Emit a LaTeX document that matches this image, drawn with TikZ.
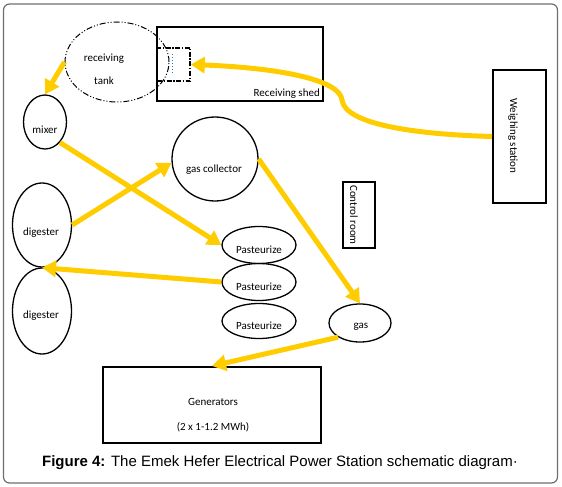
\documentclass[tikz,border=0pt]{standalone}
\usepackage{fontspec}
\setmainfont{Carlito}
\newfontfamily\capfont{Liberation Sans}
\usetikzlibrary{shapes.geometric,arrows.meta}
\definecolor{arrowyellow}{RGB}{255,204,0}
\definecolor{framegray}{RGB}{110,110,110}
\begin{document}
\begin{tikzpicture}[x=1pt,y=-1pt,
  every node/.append style={font=\fontsize{11}{13}\selectfont},
  oval/.style={draw, ellipse, line width=1.3pt, inner sep=0pt},
  box/.style={draw, rectangle, line width=2pt, inner sep=0pt},
  txt/.style={inner sep=0pt},
  flow/.style={draw=arrowyellow, line width=5pt, -{Triangle[length=14pt,width=16pt]}}
]
\useasboundingbox (0,0) rectangle (562,487);
\draw[framegray, line width=1.2pt, rounded corners=6pt] (3.5,4) rectangle (557.5,483);

% receiving tank and shed
\node[oval, line width=1pt, dash pattern=on 6pt off 2pt on 1pt off 2pt on 1pt off 2pt, minimum width=104, minimum height=80] (tank) at (117,62) {};
\node[txt] (tanka) at (104,59) {receiving};
\node[txt] (tankb) at (104,81) {tank};
\node[box, minimum width=166, minimum height=74] (shed) at (240,64) {};
\node[txt, anchor=base east] (shedl) at (320,96) {Receiving shed};
\node[draw, line width=1.5pt, dash pattern=on 5pt off 1.5pt on 1.5pt off 1.5pt, minimum width=33, minimum height=33, inner sep=0pt] (dbox) at (173.5,64.5) {};
\draw[cyan!60!blue, line width=1pt, dotted] (172,54) -- (172,75);

% weighing station and control room
\node[box, minimum width=53, minimum height=133] (weigh) at (519.5,136.5) {};
\node[txt, rotate=-90] (weighl) at (513,136) {Weighing station};
\node[box, minimum width=32, minimum height=66] (ctrl) at (359,215) {};
\node[txt, rotate=-90] (ctrll) at (354,215) {Control room};

% process vessels
\node[oval, minimum width=43, minimum height=54] (mixer) at (45,122) {};
\node[txt] (mixerl) at (45,130) {mixer};
\node[oval, minimum width=86, minimum height=84] (gc) at (215,159) {};
\node[txt] (gcl) at (214,170) {gas collector};
\node[oval, minimum width=59, minimum height=84] (dig1) at (42,225) {};
\node[txt] (dig1l) at (41,233) {digester};
\node[oval, minimum width=59, minimum height=86] (dig2) at (42,311) {};
\node[txt] (dig2l) at (41,316) {digester};
\node[oval, minimum width=74, minimum height=37] (past1) at (259,245) {};
\node[txt] (past1l) at (259,250) {Pasteurize};
\node[oval, minimum width=74, minimum height=37] (past2) at (259,282) {};
\node[txt] (past2l) at (259,287) {Pasteurize};
\node[oval, minimum width=74, minimum height=35] (past3) at (259,321) {};
\node[txt] (past3l) at (259,326) {Pasteurize};
\node[oval, minimum width=62, minimum height=38] (gas) at (360,323) {};
\node[txt] (gasl) at (361,327) {gas};

% generators
\node[box, minimum width=218, minimum height=76] (gen) at (212,405) {};
\node[txt] (genl) at (213,402) {Generators};
\node[txt] (genm) at (213,427) {(2 x 1-1.2 MWh)};

% flows
\coordinate (bend) at (342,100);
\draw[flow] (weigh.west) .. controls +(-73,-2) and +(3,25) .. (bend)
  .. controls +(-2,-20) and +(90,3.5) .. (dbox.east);
\draw[flow] (tank.west) -- (mixer.north);
\draw[flow] (mixer.-54) -- (past1.west);
\draw[flow] (dig1.east) -- (gc.185);
\draw[flow] (past2.west) -- (dig1.south);
\draw[flow] (gc.east) -- (gas.north);
\draw[flow] (gas.213) -- (gen.north);

% caption
\node[txt, font=\capfont\fontsize{15}{18}\selectfont] (cap) at (280,463) {\textbf{Figure 4:} The Emek Hefer Electrical Power Station schematic diagram·};
\end{tikzpicture}
\end{document}
